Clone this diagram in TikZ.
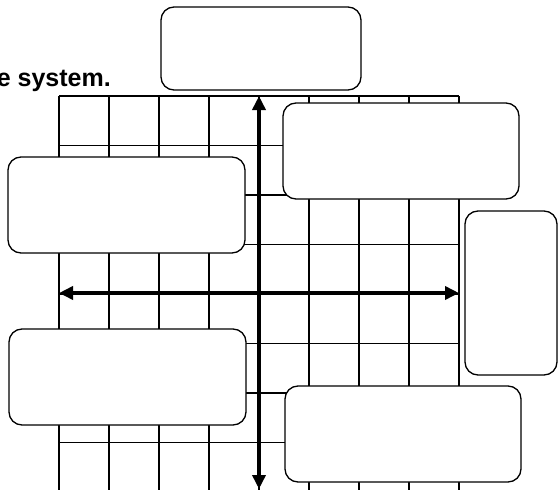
\documentclass[tikz,border=0pt]{standalone}
\usepackage{fontspec}
\setmainfont{Liberation Sans}
\usetikzlibrary{arrows.meta}
\begin{document}
\begin{tikzpicture}[x=1pt,y=-1pt,
  gridline/.style={line width=1.2pt,black},
  answerbox/.style={draw,line width=1.3pt,rounded corners=13pt,fill=white,inner sep=0pt},
  axisline/.style={line width=3.8pt,{Triangle[length=14pt,width=13pt]}-{Triangle[length=14pt,width=13pt]}}]
\useasboundingbox (0,0) rectangle (558,490);
% grid
\foreach \x in {59,109,159,209,259,309,359,409,459}
  \draw[gridline] (\x,96) -- (\x,495);
\foreach \y in {96,145.5,195,244.5,294,343.5,393,442.5}
  \draw[gridline] (59,\y) -- (459,\y);
% title fragment
\node[anchor=base east,inner sep=0pt,font=\bfseries\fontsize{25}{29}\selectfont] (title) at (111,86) {e system.};
% axes
\coordinate (ytop) at (259,96);
\coordinate (ybot) at (259,489);
\coordinate (xleft) at (59,293);
\coordinate (xright) at (459,293);
\draw[axisline] (ybot) -- (ytop);
\draw[axisline] (xleft) -- (xright);
% boxes
\node[answerbox,minimum width=200pt,minimum height=83pt] (b1) at (261,48.5) {};
\node[answerbox,minimum width=236pt,minimum height=96pt] (b2) at (401,151) {};
\node[answerbox,minimum width=237pt,minimum height=96pt] (b3) at (126.5,205) {};
\node[answerbox,minimum width=92pt,minimum height=164pt] (b4) at (511,293) {};
\node[answerbox,minimum width=237pt,minimum height=96pt] (b5) at (127.5,377) {};
\node[answerbox,minimum width=236pt,minimum height=96pt] (b6) at (403,434) {};
\end{tikzpicture}
\end{document}
